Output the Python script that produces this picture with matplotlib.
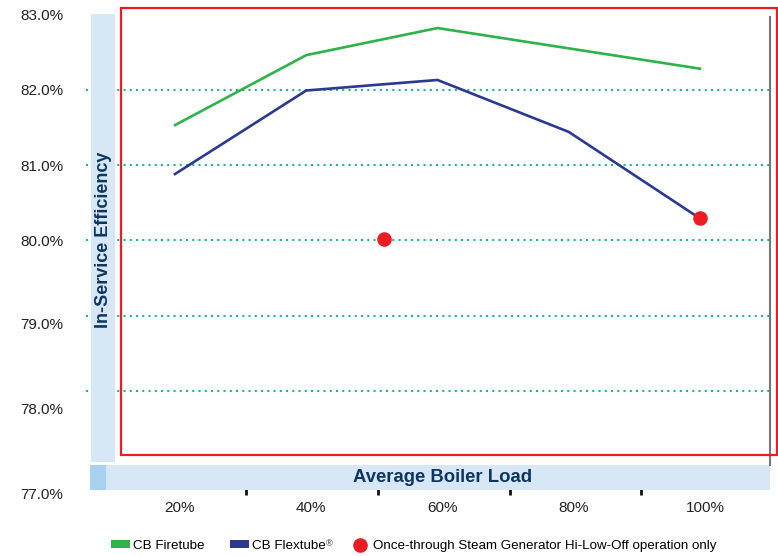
import matplotlib
matplotlib.use("Agg")
import matplotlib.pyplot as plt
from matplotlib.patches import Rectangle, Patch
from matplotlib.lines import Line2D
from matplotlib.transforms import ScaledTranslation

# ---------------- data ----------------
loads = [20, 40, 60, 80, 100]
firetube = [81.53, 82.46, 82.82, 82.55, 82.28]
flextube = [80.88, 81.99, 82.13, 81.44, 80.29]
otsg_load = [51.8, 100]
otsg_eff = [80.02, 80.29]
grid_values = [82, 81, 80, 79, 78]
ytick_labels = ["83.0%", "82.0%", "81.0%", "80.0%", "79.0%", "78.0%", "77.0%"]
ytick_label_pos = [83.0, 82.01, 81.0, 80.0, 78.90, 77.76, 76.64]
xtick_labels = ["20%", "40%", "60%", "80%", "100%"]
x_minor_ticks = [30.8, 50.9, 71.0, 91.0]
legend_labels = ["CB Firetube", "CB Flextube",
                 "Once-through Steam Generator Hi-Low-Off operation only"]
registered_mark = "®"

GREEN = "#2db34a"
NAVY = "#2b3990"
RED = "#ed1c24"
TEAL = "#19b5a0"
BAND = "#d7e7f6"
BAND_DARK = "#a8d2f0"
TITLE = "#0d3560"

W, H = 778, 556
fig = plt.figure(figsize=(W / 100, H / 100), dpi=100)
fig.patch.set_facecolor("white")

REG = ["Liberation Sans", "DejaVu Sans"]


def fx(x):
    return x / W


def fy(y):
    return 1 - y / H


ax = fig.add_axes([fx(86), fy(495), (770 - 86) / W, (495 - 14.5) / H])
ax.patch.set_visible(False)
ax.set_xlim(6.44, 110.67)
ax.set_ylim(76.615, 83.0)
for s in ax.spines.values():
    s.set_visible(False)

for g in grid_values:
    ax.axhline(g, color=TEAL, lw=1.5, linestyle=(0, (1, 2)), zorder=1)

ax.plot(loads, firetube, color=GREEN, lw=1.9, zorder=3)
ax.plot(loads, flextube, color=NAVY, lw=1.9, zorder=3)
ax.scatter(otsg_load, otsg_eff, s=110, color=RED, zorder=4, linewidths=0)

ax.set_yticks(ytick_label_pos)
ax.set_yticklabels(ytick_labels, family=REG, fontsize=11, color="#222222")
ax.tick_params(axis="y", length=0, pad=16.5)

ax.set_xticks(loads)
ax.set_xticklabels(xtick_labels, family=REG, fontsize=11, color="#222222")
ax.set_xticks(x_minor_ticks, minor=True)
ax.tick_params(axis="x", which="major", length=0, pad=4)
ax.tick_params(axis="x", which="minor", length=4.5, width=2, direction="in",
               color="#111111")
for lab in ax.get_xticklabels():
    lab.set_transform(lab.get_transform() + ScaledTranslation(5 / 100, 0, fig.dpi_scale_trans))

# bands
fig.patches.append(Rectangle((fx(91), fy(462)), 24 / W, (462 - 14) / H,
                             transform=fig.transFigure, facecolor=BAND,
                             edgecolor="none", zorder=2))
fig.patches.append(Rectangle((fx(90), fy(490)), 680 / W, 25 / H,
                             transform=fig.transFigure, facecolor=BAND,
                             edgecolor="none", zorder=2))
fig.patches.append(Rectangle((fx(90), fy(490)), 16 / W, 25 / H,
                             transform=fig.transFigure, facecolor=BAND_DARK,
                             edgecolor="none", zorder=2))
fig.text(fx(103), fy(240), "In-Service Efficiency", rotation=90,
         ha="center", va="center", fontsize=13, fontweight="bold",
         color=TITLE, family=REG, zorder=5)
fig.text(fx(442.5), fy(478), "Average Boiler Load", ha="center", va="center",
         fontsize=13.3, fontweight="bold", color=TITLE, family=REG, zorder=5)

# right gray line
fig.add_artist(Line2D([fx(770), fx(770)], [fy(17), fy(465)],
                      color="#777777", lw=1.5, zorder=3))

# red highlight rectangle
fig.patches.append(Rectangle((fx(121), fy(455)), (777 - 121) / W, (455 - 8) / H,
                             transform=fig.transFigure, facecolor="none",
                             edgecolor=RED, lw=1.6, zorder=6))

handles = [Patch(facecolor=GREEN, edgecolor="none"),
           Patch(facecolor=NAVY, edgecolor="none"),
           Line2D([], [], marker="o", color=RED, linestyle="", markersize=9.5)]
leg = fig.legend(handles, legend_labels, loc="center left",
                 bbox_to_anchor=(fx(111), fy(546)), ncol=3, frameon=False,
                 prop={"family": REG, "size": 9.6}, handlelength=1.43,
                 handleheight=0.53, handletextpad=0.23, columnspacing=1.88,
                 borderaxespad=0, borderpad=0)

# superscript registered mark after "CB Flextube"
fig.canvas.draw()
bb = leg.get_texts()[1].get_window_extent()
fig.text((bb.x1 + 0.5) / W, (bb.y1 + 1) / H, registered_mark, ha="left",
         va="top", fontsize=6.5, family=REG, color="#222222")

fig.savefig("out.png", dpi=100)
